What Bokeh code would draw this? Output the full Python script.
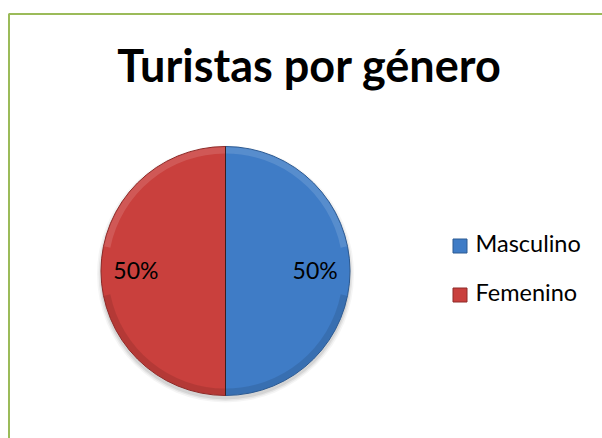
import math
from bokeh.plotting import figure
from bokeh.models import ColumnDataSource, Range1d
from bokeh.core.properties import value
from bokeh.embed import file_html
from bokeh.resources import INLINE

# ---- data ----
title = "Turistas por género"
categories = ["Masculino", "Femenino"]
values = [50, 50]
labels = ["50%", "50%"]
colors = ["#3f7cc6", "#c9403d"]
edge_colors = ["#2c5a92", "#8e2a28"]

W, H = 602, 438
p = figure(width=W, height=H, output_backend="svg", toolbar_location=None,
           x_range=Range1d(0, W), y_range=Range1d(0, H), min_border=0)
p.axis.visible = False
p.grid.visible = False
p.outline_line_color = None
p.background_fill_color = "white"
p.border_fill_color = "white"

def Y(py):
    return H - py

# border (chart frame, clipped at right/bottom)
p.line([8.5, 8.5, W + 5], [Y(H + 5), Y(13.5), Y(13.5)], line_color="#9bbb59", line_width=2)

# title
p.text(x=[309], y=[Y(64)], text=[title], text_font=value("Lato"), text_font_style="bold",
       text_font_size="45px", text_align="center", text_baseline="alphabetic", text_color="black")

# pie
cx, cy, r = 225, Y(270.5), 124.5
total = float(sum(values))
starts, ends, mids = [], [], []
cum = 0.0
for v in values:
    a0 = math.pi / 2 - 2 * math.pi * (cum + v) / total
    a1 = math.pi / 2 - 2 * math.pi * cum / total
    starts.append(a0)
    ends.append(a1)
    mids.append((a0 + a1) / 2)
    cum += v

# soft shadow below the pie
for rr, al in [(r + 4, 0.04), (r + 2.5, 0.06), (r + 1, 0.08)]:
    p.circle(x=[cx], y=[cy - 3], radius=rr, fill_color="black", fill_alpha=al, line_color=None)

src = ColumnDataSource(dict(start=starts, end=ends, color=colors, edge=edge_colors))
p.wedge(x=cx, y=cy, radius=r, start_angle="start", end_angle="end", fill_color="color",
        line_color="edge", line_width=1, source=src)
# bevel shading: lighter upper rim, darker lower rim
p.annular_wedge(x=cx, y=cy, inner_radius=r - 7, outer_radius=r - 0.5, start_angle=0.2,
                end_angle=math.pi - 0.2, fill_color="white", fill_alpha=0.13, line_color=None)
p.annular_wedge(x=cx, y=cy, inner_radius=r - 7, outer_radius=r - 0.5, start_angle=math.pi + 0.2,
                end_angle=2 * math.pi - 0.2, fill_color="black", fill_alpha=0.10, line_color=None)
p.segment(x0=[cx], y0=[cy - r], x1=[cx], y1=[cy + r], line_color="#3a2020", line_width=1)

lx = [cx + 0.72 * r * math.cos(m) for m in mids]
ly = [Y(269)] * len(mids)
p.text(x=lx, y=ly, text=labels, text_font=value("Lato"), text_font_size="23px",
       text_align="center", text_baseline="alphabetic", text_color="black")

# legend
leg_base = [Y(242), Y(291)]
leg_mid = [Y(245.5), Y(294.5)]
p.rect(x=[459.5] * len(categories), y=leg_mid, width=14, height=14, fill_color=colors,
       line_color=edge_colors)
p.text(x=[475] * len(categories), y=leg_base, text=categories, text_font=value("Lato"),
       text_font_size="23.5px", text_align="left", text_baseline="alphabetic", text_color="black")

open("out.html", "w").write(file_html(p, INLINE))
